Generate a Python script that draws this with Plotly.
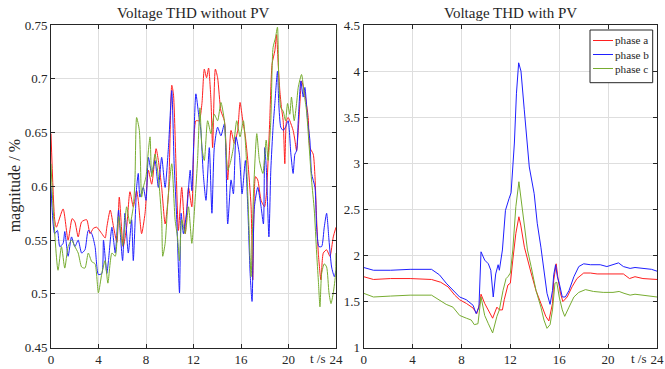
import plotly.graph_objects as go

# ---------------- data: Voltage THD without PV ----------------
wo_t_a = [0, 0.31, 0.45, 1.02, 1.44, 1.78, 2.01, 2.29, 2.58, 3.0, 3.29, 3.57, 3.85, 4.28, 4.56, 4.7, 4.99, 5.27, 5.55, 5.75,
          6.08, 6.37, 6.65, 6.93, 7.21, 7.35, 7.63, 7.92, 8.2, 8.48, 8.85, 9.04, 9.32, 9.61, 9.89, 10.17, 10.31, 10.54, 10.73,
          11.01, 11.3, 11.58, 11.86, 12.2, 12.48, 12.71, 12.91, 13.1, 13.27, 13.47, 13.61, 13.84, 14.03, 14.31, 14.6, 14.88,
          15.16, 15.44, 15.72, 15.92, 16.15, 16.37, 16.57, 16.85, 16.99, 17.22, 17.41, 17.69, 17.98, 18.14, 18.28, 18.42,
          18.62, 18.85, 18.99, 19.13, 19.27, 19.41, 19.55, 19.69, 19.83, 19.97, 20.11, 20.39, 20.54, 20.68, 20.82, 20.96,
          21.1, 21.38, 21.66, 21.8, 22.08, 22.23, 22.37, 22.51, 22.73, 22.93, 23.21, 23.49, 23.77, 24.0]
wo_a = [0.649, 0.569, 0.562, 0.579, 0.550, 0.570, 0.567, 0.553, 0.567, 0.569, 0.556, 0.561, 0.562, 0.556, 0.552, 0.562,
        0.578, 0.562, 0.548, 0.590, 0.544, 0.562, 0.595, 0.581, 0.596, 0.587, 0.556, 0.575, 0.615, 0.602, 0.635, 0.624,
        0.599, 0.565, 0.593, 0.694, 0.686, 0.615, 0.559, 0.599, 0.556, 0.599, 0.581, 0.661, 0.661, 0.677, 0.709, 0.701,
        0.710, 0.680, 0.636, 0.709, 0.701, 0.670, 0.661, 0.606, 0.652, 0.640, 0.652, 0.678, 0.661, 0.646, 0.624, 0.581,
        0.513, 0.609, 0.606, 0.587, 0.581, 0.593, 0.624, 0.661, 0.714, 0.726, 0.741, 0.714, 0.689, 0.673, 0.661, 0.621,
        0.661, 0.664, 0.661, 0.652, 0.643, 0.633, 0.652, 0.677, 0.698, 0.686, 0.664, 0.636, 0.630, 0.609, 0.569, 0.538,
        0.513, 0.538, 0.541, 0.535, 0.553, 0.562]

wo_t_b = [0, 0.31, 0.54, 0.74, 1.02, 1.16, 1.44, 1.73, 2.01, 2.29, 2.58, 2.86, 3.14, 3.43, 3.71, 3.99, 4.28, 4.42, 4.7, 4.84,
          5.13, 5.41, 5.69, 5.8, 6.03, 6.23, 6.51, 6.79, 6.93, 7.21, 7.35, 7.49, 7.77, 8.0, 8.2, 8.48, 8.76, 9.04, 9.32, 9.61,
          9.89, 10.17, 10.37, 10.59, 10.82, 10.96, 11.15, 11.44, 11.72, 11.86, 12.2, 12.43, 12.62, 12.82, 13.05, 13.33, 13.55,
          13.75, 14.03, 14.31, 14.6, 14.88, 15.16, 15.36, 15.58, 15.86, 16.09, 16.37, 16.57, 16.77, 16.93, 17.13, 17.41,
          17.69, 17.89, 18.0, 18.14, 18.35, 18.51, 18.7, 18.85, 19.07, 19.18, 19.35, 19.55, 19.75, 19.97, 20.2, 20.39, 20.54,
          20.68, 20.82, 21.04, 21.24, 21.38, 21.61, 21.8, 21.94, 22.23, 22.37, 22.56, 22.79, 23.01, 23.21, 23.41, 23.63,
          23.86, 24.0]
wo_b = [0.599, 0.556, 0.559, 0.544, 0.547, 0.558, 0.535, 0.553, 0.544, 0.550, 0.538, 0.541, 0.559, 0.556, 0.544, 0.518,
        0.519, 0.550, 0.519, 0.531, 0.562, 0.538, 0.578, 0.562, 0.531, 0.575, 0.538, 0.569, 0.531, 0.599, 0.612, 0.590,
        0.599, 0.587, 0.627, 0.612, 0.624, 0.599, 0.627, 0.599, 0.636, 0.689, 0.621, 0.569, 0.501, 0.575, 0.556, 0.578,
        0.615, 0.596, 0.686, 0.667, 0.652, 0.612, 0.587, 0.636, 0.575, 0.636, 0.655, 0.647, 0.658, 0.565, 0.606, 0.593,
        0.646, 0.630, 0.593, 0.624, 0.581, 0.519, 0.493, 0.581, 0.599, 0.581, 0.565, 0.636, 0.615, 0.553, 0.615, 0.655,
        0.677, 0.707, 0.677, 0.655, 0.652, 0.655, 0.661, 0.630, 0.612, 0.630, 0.633, 0.661, 0.698, 0.683, 0.692, 0.661,
        0.643, 0.612, 0.599, 0.562, 0.544, 0.544, 0.562, 0.575, 0.550, 0.525, 0.516, 0.522]

wo_t_c = [0, 0.17, 0.59, 0.88, 1.16, 1.44, 1.73, 2.01, 2.29, 2.58, 2.86, 3.14, 3.43, 3.71, 3.99, 4.28, 4.56, 4.79, 5.13, 5.41,
          5.69, 6.03, 6.37, 6.65, 6.93, 7.07, 7.21, 7.44, 7.63, 7.77, 8.0, 8.2, 8.34, 8.48, 8.76, 9.04, 9.32, 9.41, 9.61, 9.89,
          10.17, 10.45, 10.65, 10.82, 11.01, 11.3, 11.58, 11.86, 12.15, 12.34, 12.54, 12.71, 12.91, 13.19, 13.47, 13.75,
          14.03, 14.31, 14.6, 14.88, 15.08, 15.36, 15.64, 15.92, 16.2, 16.43, 16.65, 16.85, 17.05, 17.33, 17.55, 17.84,
          18.12, 18.28, 18.51, 18.7, 18.9, 19.07, 19.18, 19.35, 19.55, 19.75, 19.92, 20.11, 20.25, 20.48, 20.68, 20.82,
          21.1, 21.32, 21.52, 21.72, 21.94, 22.17, 22.37, 22.51, 22.65, 22.79, 23.01, 23.21, 23.41, 23.58, 23.77, 23.97, 24.0]
wo_c = [0.621, 0.581, 0.522, 0.544, 0.524, 0.544, 0.550, 0.544, 0.538, 0.525, 0.524, 0.538, 0.530, 0.528, 0.501, 0.519,
        0.531, 0.510, 0.538, 0.535, 0.572, 0.545, 0.581, 0.565, 0.581, 0.606, 0.664, 0.652, 0.590, 0.599, 0.609, 0.633,
        0.646, 0.609, 0.630, 0.609, 0.569, 0.535, 0.547, 0.593, 0.621, 0.569, 0.553, 0.531, 0.569, 0.556, 0.581, 0.547,
        0.590, 0.624, 0.673, 0.636, 0.624, 0.661, 0.649, 0.667, 0.661, 0.678, 0.661, 0.615, 0.621, 0.636, 0.661, 0.646,
        0.661, 0.630, 0.569, 0.516, 0.593, 0.649, 0.624, 0.612, 0.643, 0.624, 0.661, 0.729, 0.738, 0.748, 0.701, 0.673,
        0.670, 0.661, 0.677, 0.667, 0.683, 0.661, 0.677, 0.692, 0.704, 0.686, 0.670, 0.640, 0.606, 0.578, 0.538, 0.513,
        0.488, 0.519, 0.528, 0.525, 0.501, 0.491, 0.501, 0.519, 0.538]

# ---------------- data: Voltage THD with PV ----------------
w_t_a = [0, 0.8, 2.2, 3.8, 5.55, 6.3, 6.9, 7.45, 7.85, 8.4, 8.95, 9.25, 9.5, 9.6, 9.9, 10.2, 10.55, 10.9, 11.1, 11.35,
         11.5, 11.8, 12.0, 12.2, 12.45, 12.7, 12.85, 13.15, 13.4, 13.7, 14.1, 14.5, 14.9, 15.15, 15.45, 15.55, 15.75, 15.9,
         16.1, 16.3, 16.65, 17.05, 17.45, 18.0, 18.55, 19.1, 20.15, 21.25, 21.75, 22.2, 22.85, 24.0]
w_a = [1.77, 1.74, 1.75, 1.75, 1.74, 1.71, 1.66, 1.57, 1.52, 1.48, 1.43, 1.37, 1.48, 1.58, 1.48, 1.41, 1.32, 1.44, 1.41,
       1.41, 1.52, 1.68, 1.70, 1.95, 2.24, 2.42, 2.33, 2.09, 1.95, 1.81, 1.62, 1.48, 1.34, 1.29, 1.48, 1.73, 1.91, 1.75,
       1.59, 1.50, 1.55, 1.66, 1.75, 1.81, 1.81, 1.80, 1.80, 1.80, 1.75, 1.77, 1.75, 1.74]

w_t_b = [0, 0.8, 2.2, 3.8, 5.55, 6.2, 6.75, 7.3, 7.85, 8.4, 8.95, 9.2, 9.43, 9.6, 9.9, 10.2, 10.4, 10.6, 10.8, 11.0, 11.1,
         11.35, 11.6, 11.9, 12.06, 12.33, 12.5, 12.68, 12.87, 13.14, 13.55, 13.95, 14.2, 14.5, 14.75, 15.0, 15.25, 15.45,
         15.55, 15.7, 15.85, 16.0, 16.25, 16.5, 16.8, 17.2, 17.6, 18.0, 18.55, 19.35, 19.9, 20.4, 20.85, 21.25, 21.8, 22.2,
         22.85, 23.55, 24.0]
w_b = [1.87, 1.84, 1.84, 1.85, 1.85, 1.79, 1.70, 1.62, 1.55, 1.52, 1.46, 1.37, 1.44, 2.04, 1.95, 1.91, 1.84, 1.55, 1.80,
       1.90, 1.84, 2.06, 2.49, 2.62, 2.68, 3.22, 3.76, 4.09, 4.00, 3.58, 2.96, 2.67, 2.35, 2.09, 1.81, 1.59, 1.47, 1.62,
       1.79, 1.90, 1.77, 1.70, 1.55, 1.55, 1.62, 1.77, 1.88, 1.91, 1.90, 1.90, 1.88, 1.90, 1.92, 1.88, 1.86, 1.87, 1.86,
       1.85, 1.83]

w_t_c = [0, 0.8, 2.2, 3.8, 5.55, 6.2, 6.75, 7.3, 7.85, 8.4, 8.8, 9.05, 9.35, 9.6, 9.9, 10.2, 10.55, 10.9, 11.1, 11.4,
         11.65, 11.8, 12.0, 12.2, 12.45, 12.7, 12.85, 13.15, 13.4, 13.7, 14.1, 14.5, 14.75, 15.0, 15.25, 15.45, 15.65,
         15.8, 16.0, 16.25, 16.45, 16.8, 17.2, 17.6, 18.15, 18.8, 19.6, 20.4, 20.9, 21.3, 21.8, 22.2, 22.85, 24.0]
w_c = [1.59, 1.55, 1.56, 1.57, 1.57, 1.52, 1.47, 1.44, 1.35, 1.32, 1.30, 1.25, 1.26, 1.55, 1.35, 1.26, 1.16, 1.34, 1.41,
       1.62, 1.75, 1.77, 1.81, 2.06, 2.53, 2.80, 2.64, 2.31, 2.06, 1.88, 1.62, 1.44, 1.30, 1.21, 1.25, 1.41, 1.70, 1.71,
       1.55, 1.41, 1.34, 1.44, 1.55, 1.60, 1.63, 1.61, 1.60, 1.60, 1.61, 1.59, 1.57, 1.58, 1.57, 1.55]

phase_names = ["phase a", "phase b", "phase c"]
colors = ["#ff1f1f", "#1f1fff", "#77ac30"]

x_tickvals = [0, 4, 8, 12, 16, 20, 24]
x_ticktext = ["0", "4", "8", "12", "16", "20", "24"]
yl_tickvals = [0.45, 0.5, 0.55, 0.6, 0.65, 0.7, 0.75]
yl_ticktext = ["0.45", "0.5", "0.55", "0.6", "0.65", "0.7", "0.75"]
yr_tickvals = [1, 1.5, 2, 2.5, 3, 3.5, 4, 4.5]
yr_ticktext = ["1", "1.5", "2", "2.5", "3", "3.5", "4", "4.5"]

FONT = "Liberation Serif, Times New Roman, serif"
TXT = "#262626"
W, H = 665, 369


def px(x):
    return x / W


def py(y):
    return (H - y) / H


fig = go.Figure()
left = [(wo_t_a, wo_a), (wo_t_b, wo_b), (wo_t_c, wo_c)]
right = [(w_t_a, w_a), (w_t_b, w_b), (w_t_c, w_c)]
for i, (t, v) in enumerate(left):
    fig.add_trace(go.Scatter(x=t, y=v, mode="lines", name=phase_names[i], showlegend=False,
                             line=dict(color=colors[i], width=1, shape="spline", smoothing=0.6),
                             xaxis="x", yaxis="y"))
for i, (t, v) in enumerate(right):
    fig.add_trace(go.Scatter(x=t, y=v, mode="lines", name=phase_names[i], showlegend=False,
                             line=dict(color=colors[i], width=1), xaxis="x2", yaxis="y2"))

ydom = [py(347.7), py(25)]
axis_common = dict(showline=True, linecolor=TXT, linewidth=1, mirror="ticks",
                   ticks="inside", ticklen=4, tickcolor=TXT, automargin=False,
                   showgrid=True, gridcolor="#dedede", gridwidth=1, zeroline=False,
                   tickfont=dict(family=FONT, size=13, color=TXT))

# compact MATLAB-style legend box
shapes = [dict(type="rect", xref="paper", yref="paper", x0=px(590), x1=px(652.7), y0=py(82.7), y1=py(30),
               line=dict(color=TXT, width=1), fillcolor="white", layer="above")]
row_y = [40.5, 54.5, 68.5]
for i in range(len(phase_names)):
    shapes.append(dict(type="line", xref="paper", yref="paper", x0=px(593), x1=px(613), y0=py(row_y[i]),
                       y1=py(row_y[i]), line=dict(color=colors[i], width=1), layer="above"))
annotations = [dict(text="<br>".join(phase_names), xref="paper", yref="paper", x=px(614), y=py(54.5),
                    xanchor="left", yanchor="middle", align="left", showarrow=False, borderpad=0,
                    font=dict(family=FONT, size=11.2, color=TXT))]

annotations += [
    dict(text="Voltage THD without PV", xref="x domain", yref="paper", x=0.5, y=py(12.5),
         xanchor="center", yanchor="middle", showarrow=False, font=dict(family=FONT, size=15, color=TXT)),
    dict(text="Voltage THD with PV", xref="x2 domain", yref="paper", x=0.5, y=py(12.5),
         xanchor="center", yanchor="middle", showarrow=False, font=dict(family=FONT, size=15, color=TXT)),
    dict(text="t /s", xref="x", yref="y domain", x=22.5, y=0, yshift=-1, xanchor="center", yanchor="top",
         showarrow=False, font=dict(family=FONT, size=13, color=TXT)),
    dict(text="t /s", xref="x2", yref="y2 domain", x=22.5, y=0, yshift=-1, xanchor="center", yanchor="top",
         showarrow=False, font=dict(family=FONT, size=13, color=TXT)),
    dict(text="magnitude / %", xref="paper", yref="y domain", x=px(15), y=0.5, textangle=-90,
         xanchor="center", yanchor="middle", showarrow=False, font=dict(family=FONT, size=16, color=TXT)),
]

fig.update_layout(
    width=W, height=H,
    margin=dict(l=0, r=0, t=0, b=0),
    paper_bgcolor="white", plot_bgcolor="white",
    font=dict(family=FONT, color=TXT),
    showlegend=False,
    hovermode=False,
    xaxis=dict(domain=[px(51), px(336)], range=[0, 24], tickvals=x_tickvals, ticktext=x_ticktext,
               anchor="y", **axis_common),
    yaxis=dict(domain=ydom, range=[0.45, 0.75], tickvals=yl_tickvals, ticktext=yl_ticktext,
               anchor="x", **axis_common),
    xaxis2=dict(domain=[px(363.7), px(657)], range=[0, 24], tickvals=x_tickvals, ticktext=x_ticktext,
                anchor="y2", **axis_common),
    yaxis2=dict(domain=ydom, range=[1, 4.5], tickvals=yr_tickvals, ticktext=yr_ticktext,
                anchor="x2", **axis_common),
    shapes=shapes,
    annotations=annotations,
)

fig.write_html("out.html", config={"displayModeBar": False},
               post_script="document.body.style.margin='0';")
